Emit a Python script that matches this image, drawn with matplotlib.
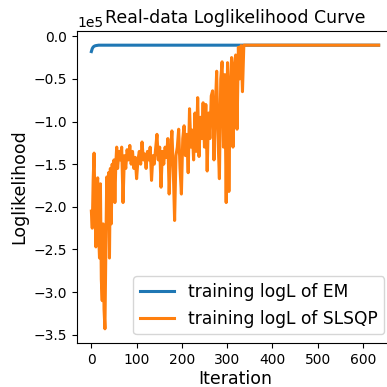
from matplotlib import pyplot as plt
import numpy as np

n_iter = 636

# EM: fast rise then flat
em_head = [-0.18, -0.16, -0.145, -0.135, -0.127, -0.122, -0.118, -0.115,
           -0.113, -0.111, -0.110, -0.109, -0.108, -0.107, -0.106]
em_final = -0.105

# SLSQP: noisy climb (iteration, value in 1e5)
slsqp_iter = [0, 2, 4, 6, 8, 10, 12, 14, 16, 18, 20, 22, 24, 26, 28, 30, 32, 34,
              36, 38, 40, 42, 44, 46, 48, 50, 52, 54, 56, 58,
              61, 64, 67, 70, 73, 76, 79, 82, 85, 88, 91, 94, 97, 100, 103, 106,
              109, 112, 115, 118, 121, 124, 127, 130, 133, 136, 139, 142, 145,
              148, 151, 154, 157, 160, 163, 166, 169, 172, 175, 178, 181, 184,
              187, 190, 193, 196, 199, 202, 205, 208, 211, 214, 217, 220, 223,
              226, 229, 232, 235, 238, 241, 244, 247, 250, 253, 256, 259, 262,
              265, 268, 271, 274, 277, 280, 283, 286, 289, 292, 295, 298, 301,
              304, 307, 310, 313, 316, 319, 322, 325, 328, 331, 334, 337]
slsqp_val = [-2.05, -2.25, -1.68, -1.37, -2.0, -2.47, -1.75, -1.66, -2.3, -2.6,
             -1.73, -2.85, -3.1, -2.2, -3.2, -3.43, -2.5, -1.65, -2.1, -1.6,
             -2.6, -1.55, -2.2, -1.5, -1.8, -1.45, -1.95, -1.5, -1.3, -1.55,
             -1.35, -1.45, -1.3, -1.95, -1.4, -1.55, -1.33, -1.45, -1.28, -1.5,
             -1.35, -1.55, -1.42, -1.67, -1.45, -1.35, -1.5, -1.24, -1.45, -1.38,
             -1.55, -1.35, -1.45, -1.3, -1.69, -1.4, -1.5, -1.32, -1.15, -1.45,
             -1.3, -1.77, -1.35, -1.5, -1.3, -1.42, -1.2, -1.85, -1.35, -1.11,
             -1.55, -2.16, -1.4, -1.3, -1.09, -1.55, -1.85, -1.2, -1.05, -1.4,
             -1.15, -1.6, -0.85, -1.3, -1.1, -1.45, -0.9, -1.35, -0.72, -1.41,
             -0.95, -1.2, -0.78, -1.3, -0.8, -1.58, -0.9, -1.2, -0.7, -0.64,
             -1.45, -0.85, -0.41, -1.2, -1.67, -0.5, -0.3, -1.3, -0.45, -1.95,
             -0.31, -1.82, -0.6, -0.25, -1.3, -0.35, -0.22, -1.09, -0.13, -0.5,
             -0.11, -0.65, -0.105]
slsqp_final = -0.105

em_x = list(range(n_iter))
em_y = em_head + [em_final] * (n_iter - len(em_head))
sl_x = slsqp_iter + [n_iter - 1]
sl_y = slsqp_val + [slsqp_final]

fig = plt.figure(figsize=(3.87, 3.87), dpi=100)
ax = fig.add_axes([77 / 387, 44 / 387, 316 / 387, 312 / 387])

ax.plot(em_x, np.array(em_y) * 1e5, color='#1f77b4', lw=2.2, label='training logL of EM')
ax.plot(sl_x, np.array(sl_y) * 1e5, color='#ff7f0e', lw=2.2, label='training logL of SLSQP')

ax.ticklabel_format(style='sci', axis='y', scilimits=(0, 0))
ax.set_xticks([0, 100, 200, 300, 400, 500, 600])
ax.tick_params(labelsize=10)
ax.yaxis.get_offset_text().set_fontsize(10)
ax.set_title('Real-data Loglikelihood Curve', fontsize=12.5)
ax.set_xlabel('Iteration', fontsize=12.5, labelpad=2)
ax.set_ylabel('Loglikelihood', fontsize=12.5)
ax.legend(loc='lower right', fontsize=12.3)

plt.savefig('out.png', dpi=100)
